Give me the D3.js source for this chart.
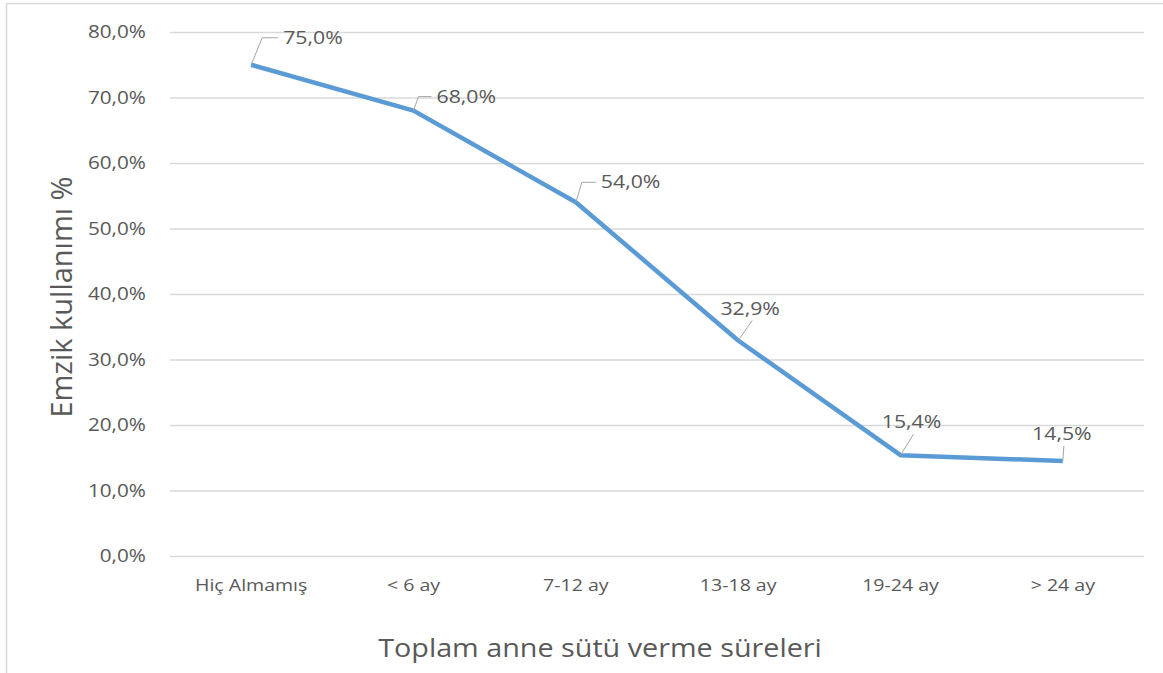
<!DOCTYPE html>
<html>
<head>
<meta charset="utf-8">
<script src="https://cdn.jsdelivr.net/npm/d3@7"></script>
<style>
  body { margin: 0; background: #fff; }
  text { font-family: "Open Sans", sans-serif; fill: #595959; }
</style>
</head>
<body>
<div class="chart"></div>
<script>
// data
var categories = ["Hiç Almamış", "< 6 ay", "7-12 ay", "13-18 ay", "19-24 ay", "> 24 ay"];
var values = [75.0, 68.0, 54.0, 32.9, 15.4, 14.5];
var yTicks = [0, 10, 20, 30, 40, 50, 60, 70, 80];
var yTitle = "Emzik kullanımı %";
var xTitle = "Toplam anne sütü verme süreleri";

// label leader placement (layout only): [leaderDx, leaderDy, horizontal len, anchor]
var labelLayout = [
    [11, -27, 16, "start"],
    [5, -14, 13, "start"],
    [6, -20, 14, "start"],
    [14, -20, 0, "middle"],
    [13, -21, 0, "middle"],
    [1, -15, 0, "middle"]
];

var svgWidth = 1163, svgHeight = 673;
var stretch = 1.15;

var svg = d3.select(".chart")
    .append("svg")
    .attr("width", svgWidth)
    .attr("height", svgHeight);

// frame
svg.append("path")
    .attr("d", "M6.5,673 V3.5 H1163")
    .attr("fill", "none")
    .attr("stroke", "#d9d9d9")
    .attr("stroke-width", 1.5);

var margin = { top: 32, left: 170, right: 19, bottom: 117 };
var width = svgWidth - margin.left - margin.right;
var height = svgHeight - margin.top - margin.bottom;

var chartGroup = svg.append("g")
    .attr("transform", `translate(${margin.left}, ${margin.top})`);

var trLocale = d3.formatLocale({ decimal: ",", thousands: ".", grouping: [3], currency: ["", "₺"] });
var pct = d => trLocale.format(".1f")(d) + "%";

var xScale = d3.scaleBand()
    .domain(categories)
    .range([0, width])
    .padding(0);

var yScale = d3.scaleLinear()
    .domain([0, 80])
    .range([height, 0]);

// y axis + gridlines
var yAxis = d3.axisLeft(yScale)
    .tickValues(yTicks)
    .tickSize(-width)
    .tickPadding(21)
    .tickFormat(pct);

var yG = chartGroup.append("g").call(yAxis);
yG.select(".domain").remove();
yG.selectAll(".tick line").attr("stroke", "#d9d9d9").attr("stroke-width", 1.3);
yG.selectAll(".tick text")
    .attr("font-size", 18)
    .attr("fill", "#595959")
    .attr("transform", `scale(${stretch},1)`);

// x axis
var xAxis = d3.axisBottom(xScale).tickSize(0).tickPadding(23);
var xG = chartGroup.append("g")
    .attr("transform", `translate(0,${height})`)
    .call(xAxis);
xG.select(".domain").remove();
xG.selectAll(".tick text")
    .attr("font-size", 17)
    .attr("fill", "#595959")
    .attr("transform", `scale(${stretch},1)`);

// line
var line = d3.line()
    .x((d, i) => xScale(categories[i]) + xScale.bandwidth() / 2)
    .y(d => yScale(d));

chartGroup.append("path")
    .datum(values)
    .attr("d", line)
    .attr("fill", "none")
    .attr("stroke", "#5b9bd5")
    .attr("stroke-width", 4.5)
    .attr("stroke-linejoin", "round");

// data labels with leader lines
var labels = chartGroup.selectAll(".dlabel")
    .data(values)
    .enter()
    .append("g")
    .attr("class", "dlabel")
    .attr("transform", (d, i) => `translate(${xScale(categories[i]) + xScale.bandwidth() / 2},${yScale(d)})`);

labels.append("path")
    .attr("d", (d, i) => {
        var l = labelLayout[i];
        return `M0,0 L${l[0]},${l[1]}` + (l[2] ? ` h${l[2]}` : "");
    })
    .attr("fill", "none")
    .attr("stroke", "#a6a6a6")
    .attr("stroke-width", 1);

labels.append("text")
    .attr("transform", (d, i) => {
        var l = labelLayout[i];
        var tx = l[3] === "start" ? l[0] + l[2] + 5 : l[0] - 2;
        var ty = l[3] === "start" ? l[1] + 6 : l[1] - 6;
        return `translate(${tx},${ty}) scale(${stretch},1)`;
    })
    .attr("text-anchor", (d, i) => labelLayout[i][3])
    .attr("font-size", 18.5)
    .text(d => pct(d));

// axis titles
svg.append("text")
    .attr("transform", `translate(${margin.left + width / 2 - 57}, 657) scale(${stretch},1)`)
    .attr("text-anchor", "middle")
    .attr("font-size", 25)
    .text(xTitle);

svg.append("text")
    .attr("transform", `translate(72, 297) rotate(-90)`)
    .attr("text-anchor", "middle")
    .attr("font-size", 29)
    .text(yTitle);
</script>
</body>
</html>
